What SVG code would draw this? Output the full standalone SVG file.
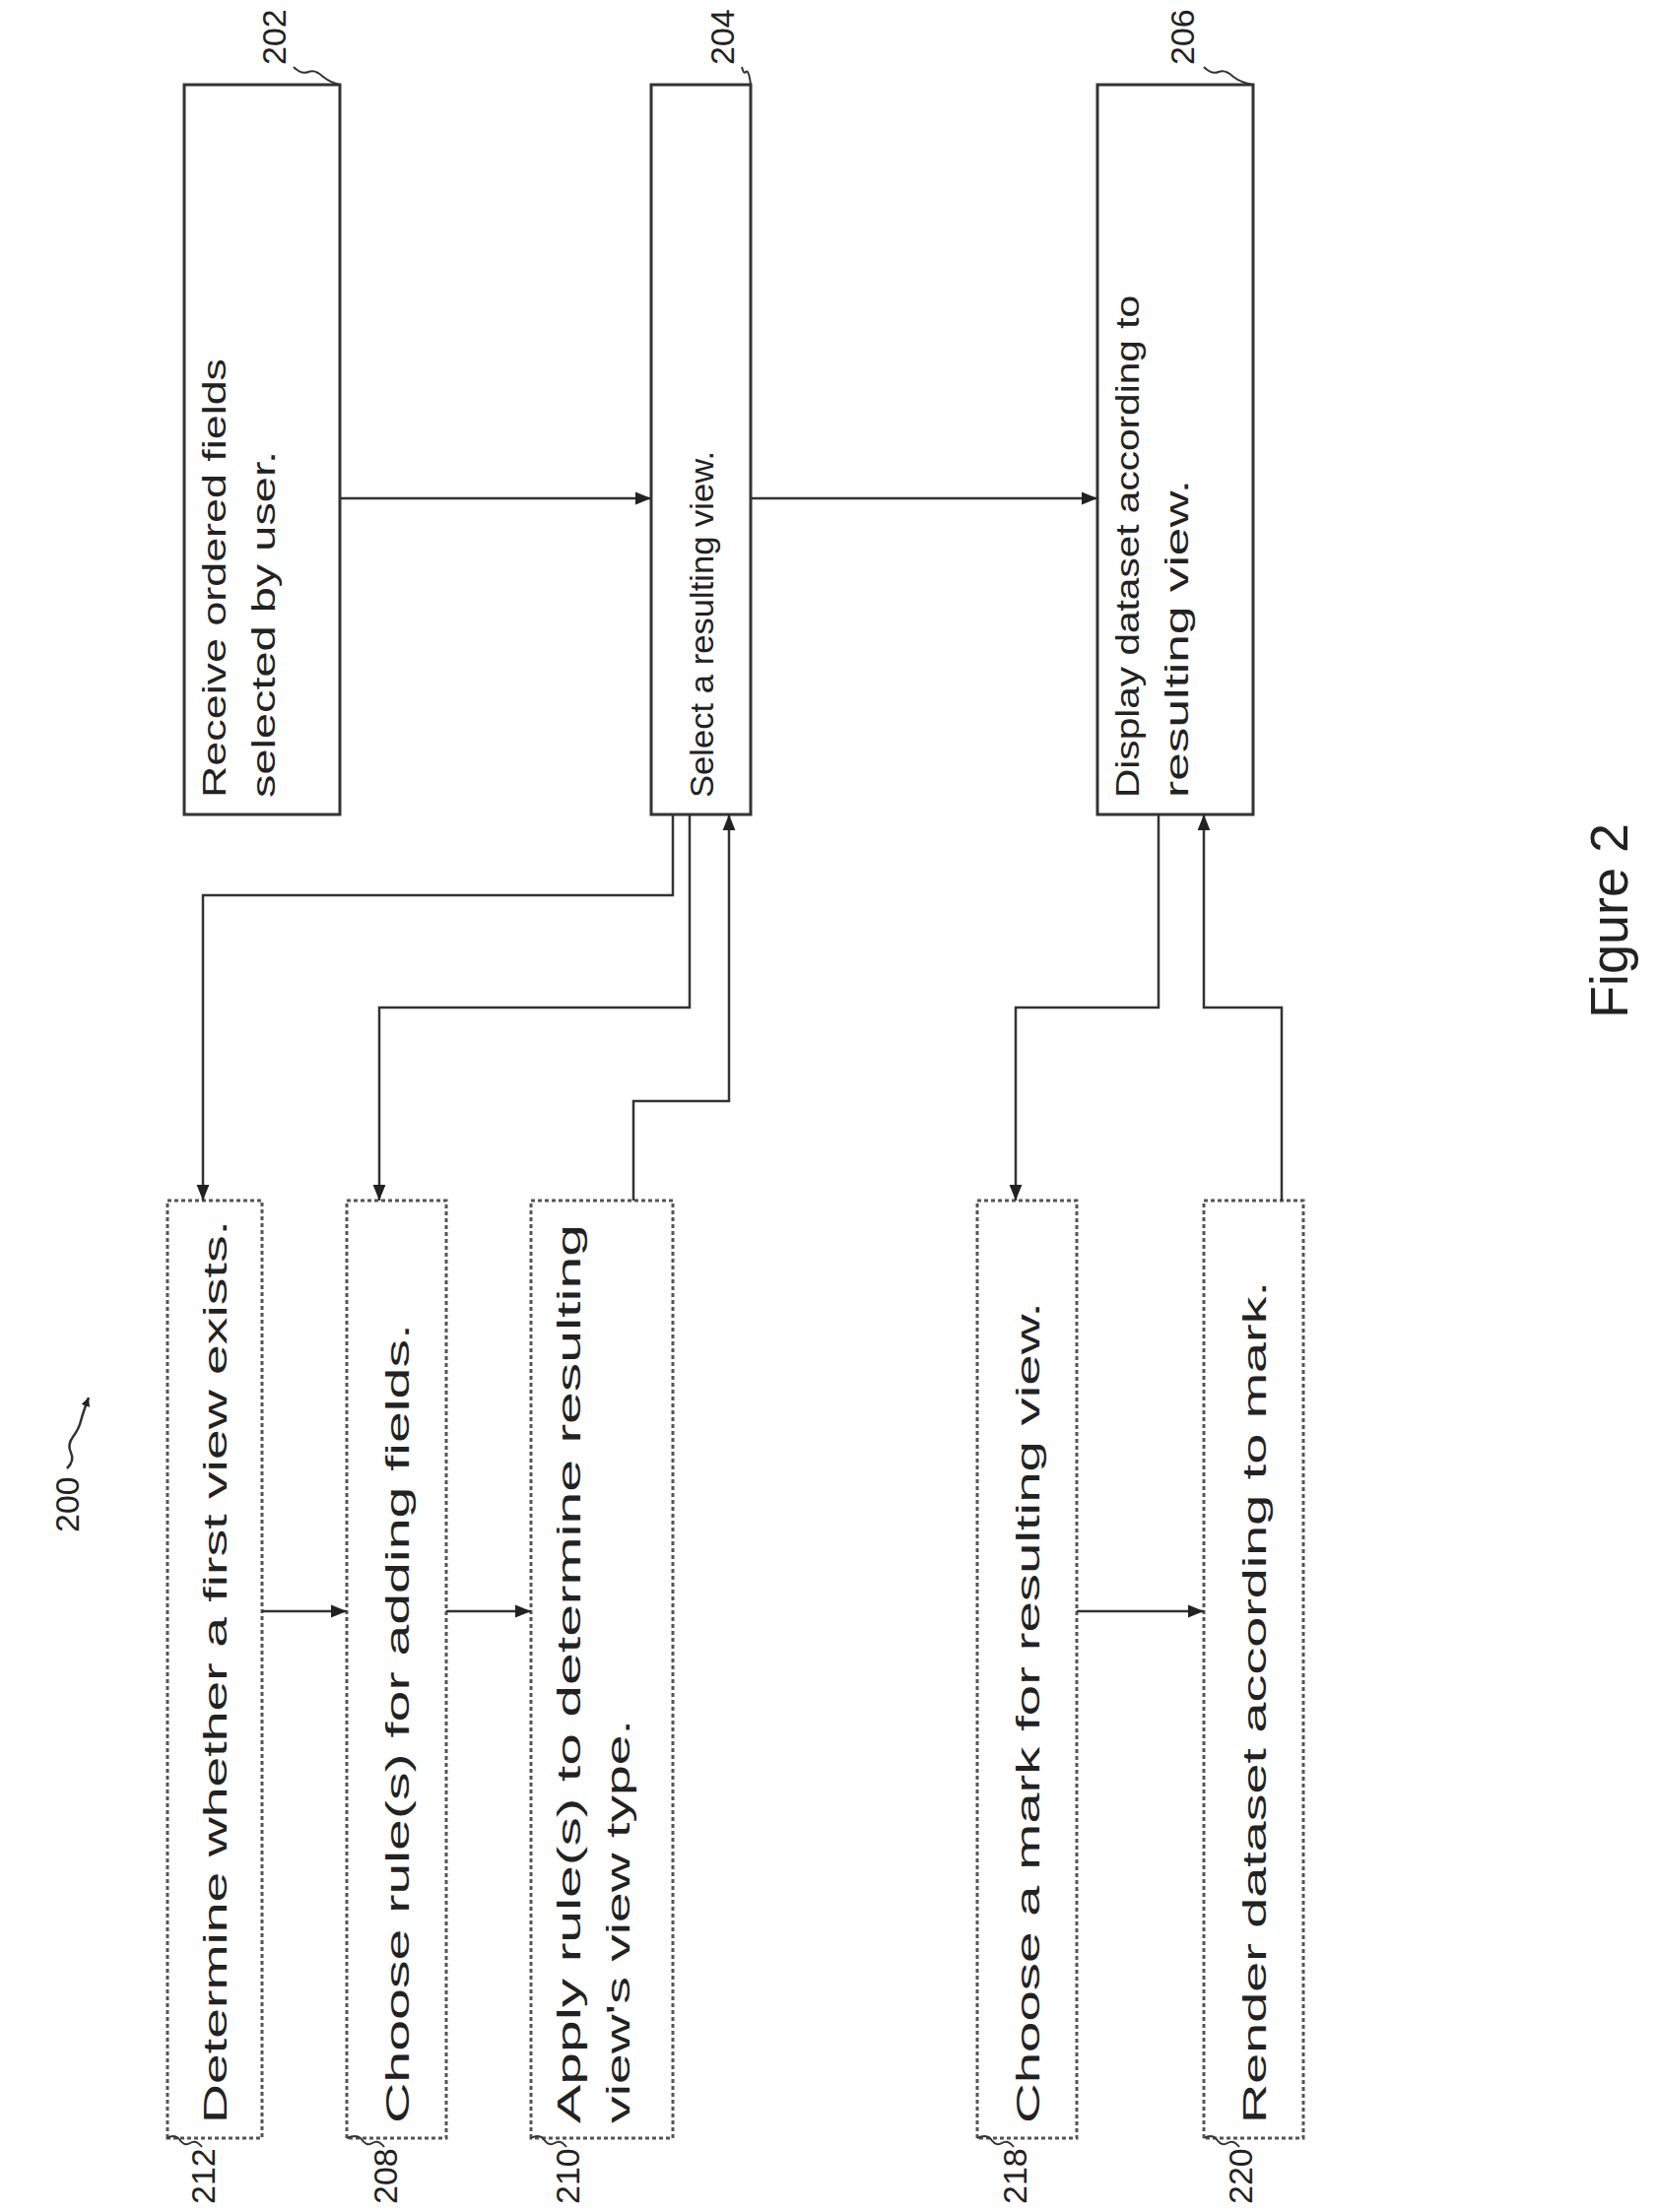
<svg xmlns="http://www.w3.org/2000/svg" width="1682" height="2246" viewBox="0 0 1682 2246">
<defs>
<marker id="ah" viewBox="0 0 10 10" refX="10" refY="5" markerWidth="9" markerHeight="9" orient="auto" markerUnits="userSpaceOnUse"><path d="M0,0 L10,5 L0,10 z" fill="#222"/></marker>
<marker id="ah2" viewBox="0 0 10 10" refX="10" refY="5" markerWidth="16" markerHeight="16" orient="auto" markerUnits="userSpaceOnUse"><path d="M0,1 L10,5 L0,9 z" fill="#222"/></marker>
</defs>
<style>
.box{fill:#fff;stroke:#333;stroke-width:3}
.dbox{fill:#fff;stroke:#555;stroke-width:3;stroke-dasharray:4 3}
.t{font-family:"Liberation Sans",Arial,sans-serif;font-size:34px;fill:#222}
.lbl{font-family:"Liberation Sans",Arial,sans-serif;font-size:34px;fill:#222}
.c{fill:none;stroke:#333;stroke-width:2.5;marker-end:url(#ah2)}
.sq{fill:none;stroke:#333;stroke-width:2}
</style>
<rect width="1682" height="2246" fill="#fff"/>
<g transform="translate(0,2246) rotate(-90)">
<g id="n202"><rect class="box" x="1419" y="187" width="741" height="158"/>
<text class="t" x="1436" y="229" textLength="446" lengthAdjust="spacingAndGlyphs">Receive ordered fields</text>
<text class="t" x="1436" y="279" textLength="352" lengthAdjust="spacingAndGlyphs">selected by user.</text></g>
<g id="n204"><rect class="box" x="1419" y="661" width="741" height="101"/>
<text class="t" x="1436" y="724" textLength="352" lengthAdjust="spacingAndGlyphs">Select a resulting view.</text></g>
<g id="n206"><rect class="box" x="1419" y="1114" width="741" height="158"/>
<text class="t" x="1436" y="1156" textLength="510" lengthAdjust="spacingAndGlyphs">Display dataset according to</text>
<text class="t" x="1436" y="1206" textLength="323" lengthAdjust="spacingAndGlyphs">resulting view.</text></g>
<g id="n212"><rect class="dbox" x="75" y="170" width="952" height="96"/>
<text class="t" x="90" y="230" textLength="917" lengthAdjust="spacingAndGlyphs">Determine whether a first view exists.</text></g>
<g id="n208"><rect class="dbox" x="75" y="352" width="952" height="101"/>
<text class="t" x="90" y="415" textLength="812" lengthAdjust="spacingAndGlyphs">Choose rule(s) for adding fields.</text></g>
<g id="n210"><rect class="dbox" x="75" y="539" width="952" height="144"/>
<text class="t" x="90" y="589" textLength="913" lengthAdjust="spacingAndGlyphs">Apply rule(s) to determine resulting</text>
<text class="t" x="90" y="639" textLength="410" lengthAdjust="spacingAndGlyphs">view's view type.</text></g>
<g id="n218"><rect class="dbox" x="75" y="992" width="952" height="101"/>
<text class="t" x="90" y="1055" textLength="834" lengthAdjust="spacingAndGlyphs">Choose a mark for resulting view.</text></g>
<g id="n220"><rect class="dbox" x="75" y="1222" width="952" height="101"/>
<text class="t" x="90" y="1285" textLength="855" lengthAdjust="spacingAndGlyphs">Render dataset according to mark.</text></g>
<g id="connectors">
<path class="c" d="M1740,345 L1740,661"/>
<path class="c" d="M1740,762 L1740,1114"/>
<path class="c" d="M610,266 L610,352"/>
<path class="c" d="M610,453 L610,539"/>
<path class="c" d="M610,1093 L610,1222"/>
<path class="c" d="M1419,683 L1337,683 L1337,206 L1027,206"/>
<path class="c" d="M1419,700 L1223,700 L1223,385 L1027,385"/>
<path class="c" d="M1027,643 L1128,643 L1128,740 L1419,740"/>
<path class="c" d="M1419,1176 L1223,1176 L1223,1031 L1027,1031"/>
<path class="c" d="M1027,1301 L1223,1301 L1223,1222 L1419,1222"/>
</g>
<g id="labels">
<text class="lbl" x="2180" y="290">202</text>
<path class="sq" d="M2178,298 q-8,8 -5,15 q3,7 -5,15 q-6,8 -8,17"/>
<text class="lbl" x="2180" y="745">204</text>
<path class="sq" d="M2178,753 q-8,2 -5,4 q3,3 -13,5"/>
<text class="lbl" x="2180" y="1212">206</text>
<path class="sq" d="M2178,1222 q-8,8 -5,15 q3,7 -5,15 q-6,8 -8,20"/>
<text class="lbl" x="8" y="218">212</text>
<path class="sq" d="M66,205 q8,-6 4,-12 q-4,-6 5,-12 q4,-5 0,-11"/>
<text class="lbl" x="8" y="403">208</text>
<path class="sq" d="M66,390 q8,-6 4,-12 q-4,-6 5,-12 q4,-5 0,-14"/>
<text class="lbl" x="8" y="588">210</text>
<path class="sq" d="M66,575 q8,-6 4,-12 q-4,-6 5,-12 q4,-5 0,-12"/>
<text class="lbl" x="8" y="1042">218</text>
<path class="sq" d="M66,1029 q8,-6 4,-12 q-4,-6 5,-12 q4,-5 0,-13"/>
<text class="lbl" x="8" y="1271">220</text>
<path class="sq" d="M66,1258 q8,-6 4,-12 q-4,-6 5,-12 q4,-5 0,-12"/>
<text class="lbl" x="690" y="80">200</text>
<path d="M755,68 q8,8 16,4 q8,-4 16,2 q8,6 16,8 q8,2 24,8" fill="none" stroke="#333" stroke-width="2.5" marker-end="url(#ah)"/>
<text x="1212" y="1652" font-family="Liberation Sans,Arial,sans-serif" font-size="54" fill="#222">Figure 2</text>
</g>
</g>
</svg>
